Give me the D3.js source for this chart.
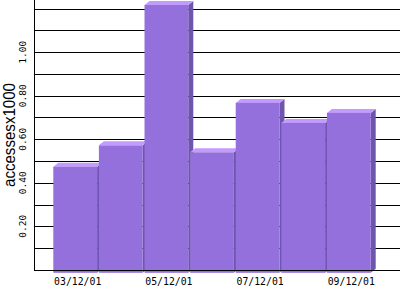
<!DOCTYPE html>
<html>
<head>
<meta charset="utf-8">
<script src="https://cdn.jsdelivr.net/npm/d3@7"></script>
<style>
  body { margin: 0; background: #fff; }
  svg { display: block; }
</style>
</head>
<body>
<svg class="chart" width="400" height="300"></svg>
<script>
var months = ['03/12/01', '04/12/01', '05/12/01', '06/12/01', '07/12/01', '08/12/01', '09/12/01'];
var accesses = [0.474, 0.572, 1.217, 0.54, 0.767, 0.675, 0.721];
var gridValues = [0.1, 0.2, 0.3, 0.4, 0.5, 0.6, 0.7, 0.8, 0.9, 1.0, 1.1, 1.2];
var tickValues = [0.2, 0.4, 0.6, 0.8, 1.0];
var xLabels = ['03/12/01', '05/12/01', '07/12/01', '09/12/01'];

var front = '#9370db', top3d = '#c39bff', side = '#6e55ad';
var dx = 5, dy = 4, drop = 3;

var svg = d3.select('.chart');

var xScale = d3.scaleBand()
  .domain(months)
  .range([53.3, 370.7])
  .paddingInner(0.04)
  .paddingOuter(0);

var yScale = d3.scaleLinear()
  .domain([0, 1.24])
  .range([269.8, 0]);

var x0 = 34, y0 = Math.round(yScale(0)) + 0.5;

// grid lines
svg.append('g')
  .selectAll('line')
  .data(gridValues)
  .join('line')
  .attr('x1', x0)
  .attr('x2', 400)
  .attr('y1', function (d) { return Math.round(yScale(d)) + 0.5; })
  .attr('y2', function (d) { return Math.round(yScale(d)) + 0.5; })
  .attr('stroke', '#000')
  .attr('stroke-width', 1);

// bars, drawn left to right so each one hides the side of the previous
var bars = svg.append('g')
  .selectAll('g')
  .data(accesses)
  .join('g');

bars.append('path')
  .attr('fill', side)
  .attr('d', function (d, i) {
    var xl = xScale(months[i]) + xScale.bandwidth(), yt = yScale(d), yb = yScale(0) + drop;
    return 'M' + xl + ',' + yt + 'L' + (xl + dx) + ',' + (yt - dy) +
      'L' + (xl + dx) + ',' + (yb - dy) + 'L' + xl + ',' + yb + 'Z';
  });

bars.append('path')
  .attr('fill', top3d)
  .attr('d', function (d, i) {
    var xa = xScale(months[i]), xb = xa + xScale.bandwidth(), yt = yScale(d);
    return 'M' + xa + ',' + yt + 'L' + (xa + dx) + ',' + (yt - dy) +
      'L' + (xb + dx) + ',' + (yt - dy) + 'L' + xb + ',' + yt + 'Z';
  });

bars.append('rect')
  .attr('fill', front)
  .attr('x', function (d, i) { return xScale(months[i]); })
  .attr('y', function (d) { return yScale(d); })
  .attr('width', xScale.bandwidth())
  .attr('height', function (d) { return yScale(0) + drop - yScale(d); });

// axes lines
svg.append('line')
  .attr('x1', x0 + 0.5).attr('x2', x0 + 0.5)
  .attr('y1', 0).attr('y2', y0)
  .attr('stroke', '#000');
svg.append('line')
  .attr('x1', x0).attr('x2', 400)
  .attr('y1', y0).attr('y2', y0)
  .attr('stroke', '#000');

// y tick labels, rotated
svg.append('g')
  .selectAll('text')
  .data(tickValues)
  .join('text')
  .attr('transform', function (d) { return 'translate(26,' + yScale(d) + ') rotate(-90)'; })
  .attr('text-anchor', 'middle')
  .style('font-family', '"DejaVu Sans Mono", monospace')
  .style('font-size', '9.5px')
  .text(function (d) { return d3.format('.2f')(d); });

// x tick labels
svg.append('g')
  .selectAll('text')
  .data(xLabels)
  .join('text')
  .attr('x', function (d) { return xScale(d) + xScale.bandwidth() / 2 + dx / 2; })
  .attr('y', 284.5)
  .attr('text-anchor', 'middle')
  .style('font-family', '"DejaVu Sans Mono", monospace')
  .style('font-size', '9.8px')
  .text(function (d) { return d; });

// y title
svg.append('text')
  .attr('transform', 'translate(15,135) rotate(-90)')
  .attr('text-anchor', 'middle')
  .attr('textLength', 104)
  .attr('lengthAdjust', 'spacingAndGlyphs')
  .style('font-family', '"Liberation Sans", sans-serif')
  .style('font-size', '16px')
  .text('accessesx1000');
</script>
</body>
</html>
